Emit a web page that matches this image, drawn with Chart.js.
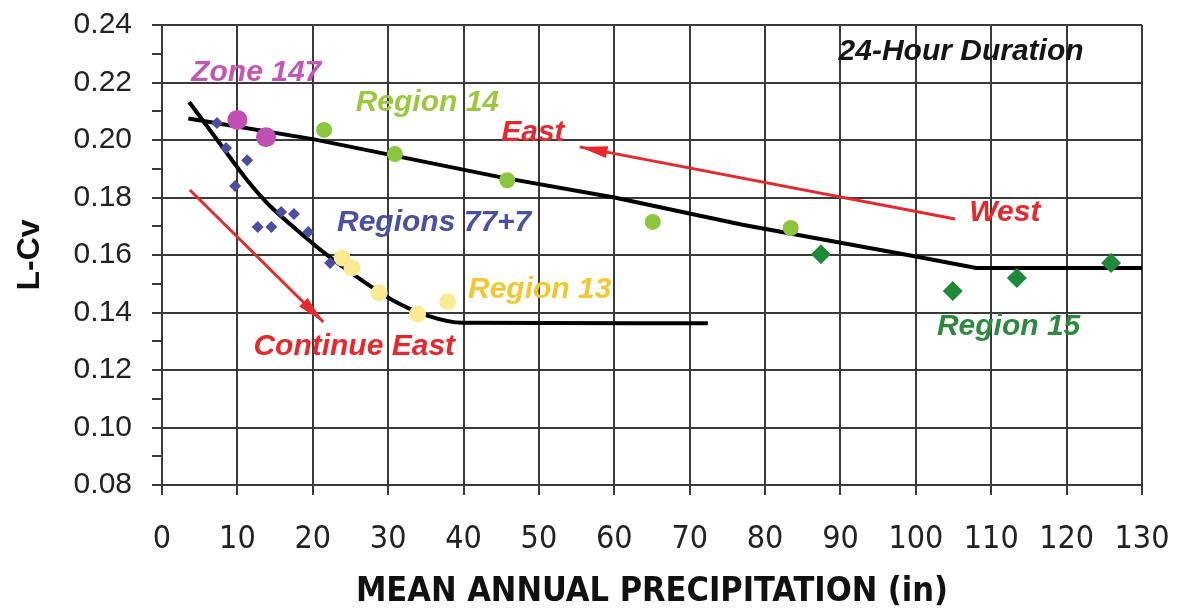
<!DOCTYPE html>
<html>
<head>
<meta charset="utf-8">
<script src="https://cdn.jsdelivr.net/npm/chart.js@4.4.1/dist/chart.umd.min.js"></script>
<style>
  html, body { margin: 0; padding: 0; background: #fff; }
  #wrap { width: 1180px; height: 615px; position: relative; }
</style>
</head>
<body>
<div id="wrap"><canvas id="chart"></canvas></div>
<script>
// =============================
// DATOS
// =============================
const xTicks = [0, 130, 10];          // min, max, paso
const yTicks = [0.08, 0.24, 0.01];    // min, max, paso (etiquetas cada 0.02)

const zoneX = [10.0, 13.8];
const zoneY = [0.207, 0.201];

const r14X = [21.5, 30.9, 45.8, 65.1, 83.4];
const r14Y = [0.2035, 0.1951, 0.186, 0.1715, 0.1694];

const r15X = [87.4, 104.9, 113.4, 125.9];
const r15Y = [0.1603, 0.1475, 0.152, 0.1572];

const r77X = [7.3, 8.5, 9.7, 11.3, 12.7, 14.5, 15.8, 17.5, 19.4, 22.3];
const r77Y = [0.2059, 0.1972, 0.184, 0.193, 0.1697, 0.1697, 0.175, 0.1743, 0.168, 0.1572];

const r13X = [23.9, 25.2, 28.8, 33.9, 37.9];
const r13Y = [0.159, 0.1555, 0.1468, 0.1395, 0.1437];

// curvas ajustadas (negras)
const fitWestX = [3.5, 20, 45, 60, 77, 100, 108, 130];
const fitWestY = [0.2075, 0.2003, 0.187, 0.18, 0.1705, 0.1595, 0.1555, 0.1555];

const fitEastX = [3.6, 7.5, 11.3, 14.2, 17.9, 21.4, 25.9, 30.6, 35.1, 39.9, 72.4];
const fitEastY = [0.2132, 0.1994, 0.186, 0.1774, 0.1687, 0.161, 0.1523, 0.1443, 0.139, 0.1364, 0.1363];

// flechas rojas (inicio -> punta)
const arrowEastX = [105.2, 55.4];
const arrowEastY = [0.1725, 0.1976];
const arrowContX = [3.7, 21.4];
const arrowContY = [0.1826, 0.1367];

const pts = (xs, ys) => xs.map((x, i) => ({ x: x, y: ys[i] }));

// textos de anotación (posición en unidades de datos)
const notes = [
  { text: "24-Hour Duration", x: 106.0, y: 0.2306, color: "#151515" },
  { text: "Zone 147", x: 12.5, y: 0.2233, color: "#c556b4" },
  { text: "Region 14", x: 35.2, y: 0.2129, color: "#9cc93c" },
  { text: "East", x: 49.2, y: 0.2024, color: "#e8282c" },
  { text: "West", x: 111.8, y: 0.1746, color: "#e8282c" },
  { text: "Regions 77+7", x: 36.1, y: 0.1711, color: "#4a50a2" },
  { text: "Region 13", x: 50.1, y: 0.1478, color: "#f2c832" },
  { text: "Continue East", x: 25.5, y: 0.128, color: "#e8282c" },
  { text: "Region 15", x: 112.3, y: 0.135, color: "#2b8a3e" },
];

const RED = "#e8282c";
const GRID = "#3a3a3a";
const TXT = "#222";
const NARROW = "'Liberation Sans Narrow', 'DejaVu Sans Condensed', 'Arial Narrow', sans-serif";

// =============================
// PLUGIN: puntas de flecha y textos
// =============================
const annotPlugin = {
  id: "annot",
  afterDatasetsDraw(chart) {
    const { ctx, scales } = chart;
    const sx = scales.x, sy = scales.y;

    // puntas de flecha
    [[arrowEastX, arrowEastY], [arrowContX, arrowContY]].forEach(([ax, ay]) => {
      const x0 = sx.getPixelForValue(ax[0]), y0 = sy.getPixelForValue(ay[0]);
      const x1 = sx.getPixelForValue(ax[1]), y1 = sy.getPixelForValue(ay[1]);
      const ang = Math.atan2(y1 - y0, x1 - x0);
      const len = 28, half = 6;
      ctx.save();
      ctx.translate(x1, y1);
      ctx.rotate(ang);
      ctx.beginPath();
      ctx.moveTo(0, 0);
      ctx.lineTo(-len, -half);
      ctx.lineTo(-len, half);
      ctx.closePath();
      ctx.fillStyle = RED;
      ctx.fill();
      ctx.restore();
    });

    // textos
    ctx.save();
    ctx.font = "italic bold 30px 'Liberation Sans', Arial, sans-serif";
    ctx.textAlign = "center";
    ctx.textBaseline = "middle";
    notes.forEach((n) => {
      ctx.fillStyle = n.color;
      ctx.fillText(n.text, sx.getPixelForValue(n.x), sy.getPixelForValue(n.y));
    });
    ctx.restore();
  },
};

// =============================
// GRÁFICO
// =============================
const markerSet = (label, data, color, style, r) => ({
  label,
  data,
  backgroundColor: color,
  borderColor: color,
  borderWidth: 0,
  pointStyle: style,
  pointRadius: r,
  showLine: false,
});

const lineSet = (label, data, color, width, extra) =>
  Object.assign(
    {
      label,
      data,
      borderColor: color,
      backgroundColor: color,
      borderWidth: width,
      pointRadius: 0,
      showLine: true,
      tension: 0,
      fill: false,
    },
    extra || {}
  );

new Chart(document.getElementById("chart"), {
  type: "scatter",
  data: {
    datasets: [
      markerSet("Zone 147", pts(zoneX, zoneY), "#c24fb3", "circle", 10),
      markerSet("Region 14", pts(r14X, r14Y), "#8cc63f", "circle", 8),
      markerSet("Region 15", pts(r15X, r15Y), "#1c8a38", "rectRot", 10),
      markerSet("Regions 77+7", pts(r77X, r77Y), "#4b4ea0", "rectRot", 6),
      markerSet("Region 13", pts(r13X, r13Y), "#f8eb92", "circle", 8.5),
      lineSet("Fit West", pts(fitWestX, fitWestY), "#000", 4),
      lineSet("Fit East", pts(fitEastX, fitEastY), "#000", 4, { cubicInterpolationMode: "monotone" }),
      lineSet("Arrow East", pts(arrowEastX, arrowEastY), RED, 3),
      lineSet("Arrow Continue", pts(arrowContX, arrowContY), RED, 3),
    ],
  },
  options: {
    responsive: true,
    maintainAspectRatio: false,
    animation: false,
    layout: { padding: { top: 25, right: 38, left: 0, bottom: 0 } },
    plugins: {
      legend: { display: false },
      tooltip: { enabled: false },
    },
    scales: {
      x: {
        type: "linear",
        min: xTicks[0],
        max: xTicks[1],
        afterFit: (s) => { s.height = 130; s.paddingLeft = 0; s.paddingRight = 0; },
        ticks: {
          stepSize: xTicks[2],
          color: TXT,
          padding: 25,
          font: { family: NARROW, size: 32 },
        },
        grid: { color: GRID, lineWidth: 2, tickLength: 10, tickColor: GRID },
        border: { color: GRID, width: 2 },
        title: {
          display: true,
          text: "MEAN ANNUAL PRECIPITATION (in)",
          color: "#111",
          padding: { top: 0, bottom: 2 },
          font: { family: NARROW, size: 34, weight: "bold" },
        },
      },
      y: {
        type: "linear",
        min: yTicks[0],
        max: yTicks[1],
        afterFit: (s) => { s.width = 162; s.paddingTop = 0; s.paddingBottom = 0; },
        ticks: {
          stepSize: yTicks[2],
          autoSkip: false,
          color: TXT,
          padding: 20,
          font: { family: "'Liberation Sans', Arial, sans-serif", size: 30 },
          callback: (v, i) => (i % 2 === 0 ? Number(v).toFixed(2) : ""),
        },
        grid: {
          color: (c) => (c.index % 2 === 0 ? GRID : "rgba(0,0,0,0)"),
          lineWidth: 2,
          tickLength: 10,
          tickColor: GRID,
        },
        border: { color: GRID, width: 2 },
        title: {
          display: true,
          text: "L-Cv",
          color: "#111",
          padding: { top: 11, bottom: 0 },
          font: { family: "'Liberation Sans', Arial, sans-serif", size: 32, weight: "bold" },
        },
      },
    },
  },
  plugins: [annotPlugin],
});
</script>
</body>
</html>
